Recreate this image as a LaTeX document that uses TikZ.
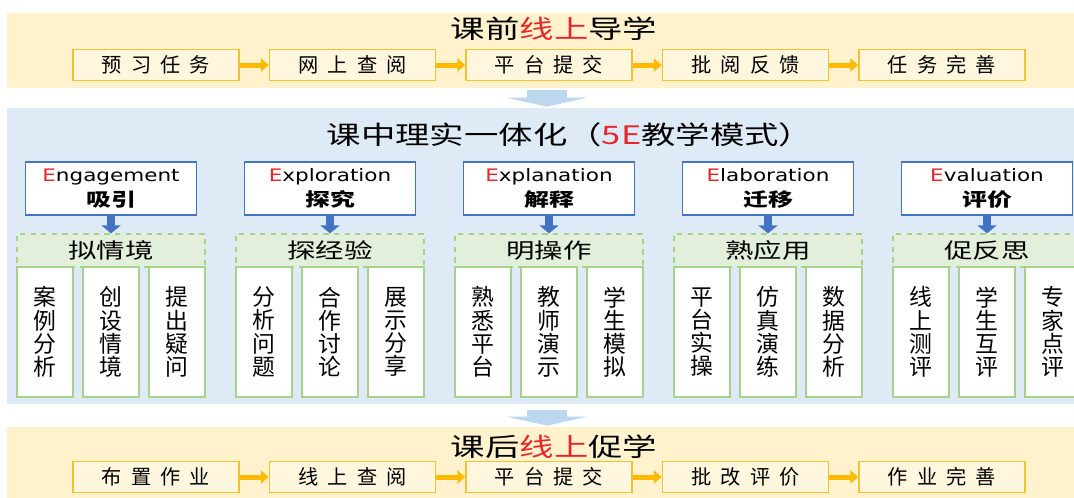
\documentclass[tikz,border=0pt]{standalone}
\usepackage{fontspec}
\setmainfont{Noto Sans CJK SC}
\newfontfamily\cjk{Noto Sans CJK SC}
\newfontfamily\cjkwide[FakeStretch=1.35]{Noto Sans CJK SC}
\newfontfamily\cjkgap[LetterSpace=45]{Noto Sans CJK SC}
\newfontfamily\latwide[FakeStretch=1.25]{DejaVu Sans}
\usetikzlibrary{arrows.meta}
\definecolor{bandyellow}{HTML}{FFF2CC}
\definecolor{boxyellow}{HTML}{FFF7DD}
\definecolor{lineyellow}{HTML}{F2C230}
\definecolor{flowyellow}{HTML}{FFBA00}
\definecolor{bandblue}{HTML}{DEEBF7}
\definecolor{lineblue}{HTML}{4472C4}
\definecolor{bigblue}{HTML}{BDD7EE}
\definecolor{headgreen}{HTML}{E2EFDA}
\definecolor{linegreen}{HTML}{A9D18E}
\definecolor{ered}{HTML}{E8262A}
\newcommand{\redE}{\textcolor{ered}{E}}
\tikzset{
  band/.style={inner sep=0, minimum width=21.46cm},
  bandtitle/.style={inner sep=0, font=\cjkwide\fontsize{14.5pt}{16pt}\selectfont},
  taskbox/.style={draw=lineyellow, line width=0.03cm, fill=boxyellow, inner sep=0,
    minimum width=3.32cm, minimum height=0.62cm, font=\cjkgap\fontsize{11.5pt}{13pt}\selectfont},
  flow/.style={draw=flowyellow, line width=0.1cm, -{Triangle[width=0.26cm, length=0.16cm]}},
  ebox/.style={draw=lineblue, line width=0.03cm, fill=white, inner sep=0, align=center,
    minimum width=3.42cm, minimum height=1.06cm, font=\latwide\fontsize{9.8pt}{14.5pt}\selectfont},
  down/.style={draw=lineblue, line width=0.16cm, -{Triangle[width=0.38cm, length=0.16cm]}},
  headbox/.style={draw=linegreen, dashed, line width=0.025cm, fill=headgreen, inner sep=0,
    minimum width=3.76cm, minimum height=0.66cm, font=\cjkwide\fontsize{12pt}{14pt}\selectfont},
  stepbox/.style={draw=linegreen, line width=0.03cm, fill=white, inner sep=0, align=center,
    minimum width=1.12cm, minimum height=2.6cm, font=\cjk\fontsize{13pt}{13.2pt}\selectfont},
  bigarrow/.style={draw=bigblue, line width=0.8cm, -{Triangle[width=1.6cm, length=0.18cm]}}
}
\begin{document}
\begin{tikzpicture}[x=0.02cm, y=-0.02cm]
\fill[white] (0,0) rectangle (1074,497);
\useasboundingbox (0,0) rectangle (1074,497);
% bands
\node[band, fill=bandyellow, minimum height=1.5cm] (pre) at (543.5,50.5) {};
\node[band, fill=bandblue, minimum height=5.92cm] (mid) at (543.5,256) {};
\node[band, fill=bandyellow, minimum height=1.46cm] (post) at (543.5,463.5) {};
\draw[bigarrow] ([xshift=0.07cm, yshift=-0.04cm]pre.south) -- ([xshift=0.07cm, yshift=0.02cm]mid.north);
\draw[bigarrow] ([xshift=0.07cm, yshift=-0.12cm]mid.south) -- ([xshift=0.07cm, yshift=0.02cm]post.north);
% before class
\node[bandtitle] (pretitle) at (554,29) {课前\textcolor{ered}{线上}导学};
\node[taskbox] (pre1) at (156,65) {预习任务};
\node[taskbox] (pre2) at (352.5,65) {网上查阅};
\node[taskbox] (pre3) at (549,65) {平台提交};
\node[taskbox] (pre4) at (745.5,65) {批阅反馈};
\node[taskbox] (pre5) at (942,65) {任务完善};
\draw[flow] (pre1) -- (pre2);
\draw[flow] (pre2) -- (pre3);
\draw[flow] (pre3) -- (pre4);
\draw[flow] (pre4) -- (pre5);
% in class, 5E
\node[bandtitle] (midtitle) at (570,134.5) {课中理实一体化（\textcolor{ered}{5E}教学模式）};
\node[ebox] (e1) at (111,188.5) {\redE ngagement\\{\cjkwide\bfseries\fontsize{10.5pt}{14.5pt}\selectfont 吸引}};
\node[ebox] (e2) at (330,188.5) {\redE xploration\\{\cjkwide\bfseries\fontsize{10.5pt}{14.5pt}\selectfont 探究}};
\node[ebox] (e3) at (549,188.5) {\redE xplanation\\{\cjkwide\bfseries\fontsize{10.5pt}{14.5pt}\selectfont 解释}};
\node[ebox] (e4) at (768,188.5) {\redE laboration\\{\cjkwide\bfseries\fontsize{10.5pt}{14.5pt}\selectfont 迁移}};
\node[ebox] (e5) at (987,188.5) {\redE valuation\\{\cjkwide\bfseries\fontsize{10.5pt}{14.5pt}\selectfont 评价}};
\node[headbox] (h1) at (111,250.5) {拟情境};
\node[headbox] (h2) at (330,250.5) {探经验};
\node[headbox] (h3) at (549,250.5) {明操作};
\node[headbox] (h4) at (768,250.5) {熟应用};
\node[headbox] (h5) at (987,250.5) {促反思};
\draw[down] (e1) -- (h1);
\draw[down] (e2) -- (h2);
\draw[down] (e3) -- (h3);
\draw[down] (e4) -- (h4);
\draw[down] (e5) -- (h5);
% steps
\node[stepbox] (s11) at (45,332) {案\\例\\分\\析};
\node[stepbox] (s12) at (111,332) {创\\设\\情\\境};
\node[stepbox] (s13) at (177,332) {提\\出\\疑\\问};
\node[stepbox] (s21) at (264,332) {分\\析\\问\\题};
\node[stepbox] (s22) at (330,332) {合\\作\\讨\\论};
\node[stepbox] (s23) at (396,332) {展\\示\\分\\享};
\node[stepbox] (s31) at (483,332) {熟\\悉\\平\\台};
\node[stepbox] (s32) at (549,332) {教\\师\\演\\示};
\node[stepbox] (s33) at (615,332) {学\\生\\模\\拟};
\node[stepbox] (s41) at (702,332) {平\\台\\实\\操};
\node[stepbox] (s42) at (768,332) {仿\\真\\演\\练};
\node[stepbox] (s43) at (834,332) {数\\据\\分\\析};
\node[stepbox] (s51) at (921,332) {线\\上\\测\\评};
\node[stepbox] (s52) at (987,332) {学\\生\\互\\评};
\node[stepbox] (s53) at (1053,332) {专\\家\\点\\评};
% after class
\node[bandtitle] (posttitle) at (554,447) {课后\textcolor{ered}{线上}促学};
\node[taskbox] (post1) at (156,477) {布置作业};
\node[taskbox] (post2) at (352.5,477) {线上查阅};
\node[taskbox] (post3) at (549,477) {平台提交};
\node[taskbox] (post4) at (745.5,477) {批改评价};
\node[taskbox] (post5) at (942,477) {作业完善};
\draw[flow] (post1) -- (post2);
\draw[flow] (post2) -- (post3);
\draw[flow] (post3) -- (post4);
\draw[flow] (post4) -- (post5);
\end{tikzpicture}
\end{document}
